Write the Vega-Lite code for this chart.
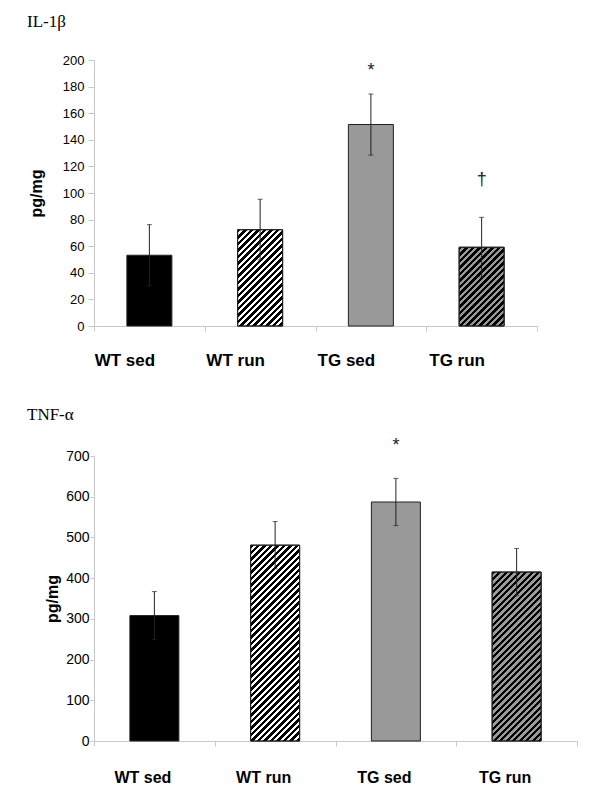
{
  "$schema": "https://vega.github.io/schema/vega-lite/v6.json",
  "background": "white",
  "padding": {"left": 27, "top": 13, "right": 5, "bottom": 5},
  "spacing": 37,
  "params": [
    {"name": "hatch", "value": [
      {"offset":0,"color":"#000"},
      {"offset":0.01316,"color":"#000"},{"offset":0.01316,"color":"transparent"},
      {"offset":0.02632,"color":"transparent"},{"offset":0.02632,"color":"#000"},
      {"offset":0.03947,"color":"#000"},{"offset":0.03947,"color":"transparent"},
      {"offset":0.05263,"color":"transparent"},{"offset":0.05263,"color":"#000"},
      {"offset":0.06579,"color":"#000"},{"offset":0.06579,"color":"transparent"},
      {"offset":0.07895,"color":"transparent"},{"offset":0.07895,"color":"#000"},
      {"offset":0.09211,"color":"#000"},{"offset":0.09211,"color":"transparent"},
      {"offset":0.10526,"color":"transparent"},{"offset":0.10526,"color":"#000"},
      {"offset":0.11842,"color":"#000"},{"offset":0.11842,"color":"transparent"},
      {"offset":0.13158,"color":"transparent"},{"offset":0.13158,"color":"#000"},
      {"offset":0.14474,"color":"#000"},{"offset":0.14474,"color":"transparent"},
      {"offset":0.15789,"color":"transparent"},{"offset":0.15789,"color":"#000"},
      {"offset":0.17105,"color":"#000"},{"offset":0.17105,"color":"transparent"},
      {"offset":0.18421,"color":"transparent"},{"offset":0.18421,"color":"#000"},
      {"offset":0.19737,"color":"#000"},{"offset":0.19737,"color":"transparent"},
      {"offset":0.21053,"color":"transparent"},{"offset":0.21053,"color":"#000"},
      {"offset":0.22368,"color":"#000"},{"offset":0.22368,"color":"transparent"},
      {"offset":0.23684,"color":"transparent"},{"offset":0.23684,"color":"#000"},
      {"offset":0.25,"color":"#000"},{"offset":0.25,"color":"transparent"},
      {"offset":0.26316,"color":"transparent"},{"offset":0.26316,"color":"#000"},
      {"offset":0.27632,"color":"#000"},{"offset":0.27632,"color":"transparent"},
      {"offset":0.28947,"color":"transparent"},{"offset":0.28947,"color":"#000"},
      {"offset":0.30263,"color":"#000"},{"offset":0.30263,"color":"transparent"},
      {"offset":0.31579,"color":"transparent"},{"offset":0.31579,"color":"#000"},
      {"offset":0.32895,"color":"#000"},{"offset":0.32895,"color":"transparent"},
      {"offset":0.34211,"color":"transparent"},{"offset":0.34211,"color":"#000"},
      {"offset":0.35526,"color":"#000"},{"offset":0.35526,"color":"transparent"},
      {"offset":0.36842,"color":"transparent"},{"offset":0.36842,"color":"#000"},
      {"offset":0.38158,"color":"#000"},{"offset":0.38158,"color":"transparent"},
      {"offset":0.39474,"color":"transparent"},{"offset":0.39474,"color":"#000"},
      {"offset":0.40789,"color":"#000"},{"offset":0.40789,"color":"transparent"},
      {"offset":0.42105,"color":"transparent"},{"offset":0.42105,"color":"#000"},
      {"offset":0.43421,"color":"#000"},{"offset":0.43421,"color":"transparent"},
      {"offset":0.44737,"color":"transparent"},{"offset":0.44737,"color":"#000"},
      {"offset":0.46053,"color":"#000"},{"offset":0.46053,"color":"transparent"},
      {"offset":0.47368,"color":"transparent"},{"offset":0.47368,"color":"#000"},
      {"offset":0.48684,"color":"#000"},{"offset":0.48684,"color":"transparent"},
      {"offset":0.5,"color":"transparent"},{"offset":0.5,"color":"#000"},
      {"offset":0.51316,"color":"#000"},{"offset":0.51316,"color":"transparent"},
      {"offset":0.52632,"color":"transparent"},{"offset":0.52632,"color":"#000"},
      {"offset":0.53947,"color":"#000"},{"offset":0.53947,"color":"transparent"},
      {"offset":0.55263,"color":"transparent"},{"offset":0.55263,"color":"#000"},
      {"offset":0.56579,"color":"#000"},{"offset":0.56579,"color":"transparent"},
      {"offset":0.57895,"color":"transparent"},{"offset":0.57895,"color":"#000"},
      {"offset":0.59211,"color":"#000"},{"offset":0.59211,"color":"transparent"},
      {"offset":0.60526,"color":"transparent"},{"offset":0.60526,"color":"#000"},
      {"offset":0.61842,"color":"#000"},{"offset":0.61842,"color":"transparent"},
      {"offset":0.63158,"color":"transparent"},{"offset":0.63158,"color":"#000"},
      {"offset":0.64474,"color":"#000"},{"offset":0.64474,"color":"transparent"},
      {"offset":0.65789,"color":"transparent"},{"offset":0.65789,"color":"#000"},
      {"offset":0.67105,"color":"#000"},{"offset":0.67105,"color":"transparent"},
      {"offset":0.68421,"color":"transparent"},{"offset":0.68421,"color":"#000"},
      {"offset":0.69737,"color":"#000"},{"offset":0.69737,"color":"transparent"},
      {"offset":0.71053,"color":"transparent"},{"offset":0.71053,"color":"#000"},
      {"offset":0.72368,"color":"#000"},{"offset":0.72368,"color":"transparent"},
      {"offset":0.73684,"color":"transparent"},{"offset":0.73684,"color":"#000"},
      {"offset":0.75,"color":"#000"},{"offset":0.75,"color":"transparent"},
      {"offset":0.76316,"color":"transparent"},{"offset":0.76316,"color":"#000"},
      {"offset":0.77632,"color":"#000"},{"offset":0.77632,"color":"transparent"},
      {"offset":0.78947,"color":"transparent"},{"offset":0.78947,"color":"#000"},
      {"offset":0.80263,"color":"#000"},{"offset":0.80263,"color":"transparent"},
      {"offset":0.81579,"color":"transparent"},{"offset":0.81579,"color":"#000"},
      {"offset":0.82895,"color":"#000"},{"offset":0.82895,"color":"transparent"},
      {"offset":0.84211,"color":"transparent"},{"offset":0.84211,"color":"#000"},
      {"offset":0.85526,"color":"#000"},{"offset":0.85526,"color":"transparent"},
      {"offset":0.86842,"color":"transparent"},{"offset":0.86842,"color":"#000"},
      {"offset":0.88158,"color":"#000"},{"offset":0.88158,"color":"transparent"},
      {"offset":0.89474,"color":"transparent"},{"offset":0.89474,"color":"#000"},
      {"offset":0.90789,"color":"#000"},{"offset":0.90789,"color":"transparent"},
      {"offset":0.92105,"color":"transparent"},{"offset":0.92105,"color":"#000"},
      {"offset":0.93421,"color":"#000"},{"offset":0.93421,"color":"transparent"},
      {"offset":0.94737,"color":"transparent"},{"offset":0.94737,"color":"#000"},
      {"offset":0.96053,"color":"#000"},{"offset":0.96053,"color":"transparent"},
      {"offset":0.97368,"color":"transparent"},{"offset":0.97368,"color":"#000"},
      {"offset":0.98684,"color":"#000"},{"offset":0.98684,"color":"transparent"},
      {"offset":1,"color":"transparent"}
    ]}
  ],
  "datasets": {
    "il1b": [
      {"group": "WT sed", "mean": 53.2, "lo": 30.2, "hi": 76.2},
      {"group": "WT run", "mean": 72.4, "lo": 49.6, "hi": 95.3},
      {"group": "TG sed", "mean": 151.5, "lo": 128.5, "hi": 174.4},
      {"group": "TG run", "mean": 59.2, "lo": 36.7, "hi": 81.7}
    ],
    "il1bSig": [
      {"group": "TG sed", "y": 192, "label": "*"},
      {"group": "TG run", "y": 110, "label": "†"}
    ],
    "tnfa": [
      {"group": "WT sed", "mean": 308, "lo": 249, "hi": 367},
      {"group": "WT run", "mean": 481, "lo": 423, "hi": 539},
      {"group": "TG sed", "mean": 587, "lo": 529, "hi": 645},
      {"group": "TG run", "mean": 415, "lo": 357, "hi": 473}
    ],
    "tnfaSig": [
      {"group": "TG sed", "y": 725, "label": "*"}
    ]
  },
  "config": {
    "view": {"stroke": null},
    "axis": {
      "grid": false,
      "domainColor": "#c8c8c8",
      "tickColor": "#c8c8c8",
      "labelFont": "Liberation Sans",
      "titleFont": "Liberation Sans",
      "labelColor": "#000",
      "titleColor": "#000",
      "labelOverlap": false,
      "labelFlush": false
    },
    "axisY": {"labelOverlap": false},
    "axisQuantitative": {"labelOverlap": false},
    "title": {
      "font": "Liberation Serif",
      "fontSize": 17,
      "fontWeight": "normal",
      "anchor": "start",
      "color": "#000",
      "frame": "group"
    }
  },
  "vconcat": [
    {
      "width": 443,
      "height": 266,
      "title": {"text": "IL-1β", "dx": -67, "offset": 23},
      "data": {"name": "il1b"},
      "encoding": {
        "x": {
          "field": "group", "type": "nominal",
          "sort": ["WT sed", "WT run", "TG sed", "TG run"],
          "scale": {"paddingInner": 0, "paddingOuter": 0},
          "axis": {
            "title": null, "labelAngle": 0, "labelFontSize": 17, "labelFontWeight": "bold",
            "labelOffset": -25, "tickBand": "extent", "tickSize": 5, "labelPadding": 21
          }
        },
        "y": {
          "field": "mean", "type": "quantitative", "title": "pg/mg",
          "scale": {"domain": [0, 200], "nice": false},
          "axis": {
            "values": [0, 20, 40, 60, 80, 100, 120, 140, 160, 180, 200],
            "labelOverlap": false,
            "titleFontSize": 16, "titleFontWeight": "bold", "labelFontSize": 13,
            "tickSize": 6, "labelPadding": 4, "titlePadding": 18
          }
        }
      },
      "layer": [
        {
          "mark": {"type": "bar", "width": 45, "stroke": "#222", "strokeWidth": 1},
          "encoding": {
            "fill": {
              "field": "group", "type": "nominal", "legend": null,
              "scale": {"domain": ["WT sed", "WT run", "TG sed", "TG run"], "range": ["#000000", "#ffffff", "#999999", "#999999"]}
            }
          }
        },
        {
          "transform": [{"filter": "datum.group === 'WT run'"}],
          "mark": {"type": "bar", "width": 45, "stroke": "#222", "strokeWidth": 1,
            "fill": {"expr": "{gradient: 'linear', x1: 0, y1: 0, x2: 0.9837, y2: 2.105, stops: hatch}"}}
        },
        {
          "transform": [{"filter": "datum.group === 'TG run'"}],
          "mark": {"type": "bar", "width": 45, "stroke": "#222", "strokeWidth": 1,
            "fill": {"expr": "{gradient: 'linear', x1: 0, y1: 0, x2: 1.3523, y2: 2.365, stops: hatch}"}}
        },
        {
          "mark": {"type": "rule", "color": "#222", "strokeWidth": 1},
          "encoding": {
            "y": {"field": "lo", "type": "quantitative", "title": "pg/mg",
              "axis": {"values": [0, 20, 40, 60, 80, 100, 120, 140, 160, 180, 200], "labelOverlap": false, "titleFontSize": 16, "titleFontWeight": "bold", "labelFontSize": 13, "tickSize": 6, "labelPadding": 4, "titlePadding": 18}},
            "y2": {"field": "hi"}
          }
        },
        {
          "mark": {"type": "tick", "color": "#222", "size": 5, "thickness": 1, "orient": "horizontal"},
          "encoding": {"y": {"field": "hi", "type": "quantitative", "title": "pg/mg",
            "axis": {"values": [0, 20, 40, 60, 80, 100, 120, 140, 160, 180, 200], "labelOverlap": false, "titleFontSize": 16, "titleFontWeight": "bold", "labelFontSize": 13, "tickSize": 6, "labelPadding": 4, "titlePadding": 18}}}
        },
        {
          "mark": {"type": "tick", "color": "#222", "size": 5, "thickness": 1, "orient": "horizontal"},
          "encoding": {"y": {"field": "lo", "type": "quantitative", "title": "pg/mg",
            "axis": {"values": [0, 20, 40, 60, 80, 100, 120, 140, 160, 180, 200], "labelOverlap": false, "titleFontSize": 16, "titleFontWeight": "bold", "labelFontSize": 13, "tickSize": 6, "labelPadding": 4, "titlePadding": 18}}}
        },
        {
          "data": {"name": "il1bSig"},
          "mark": {"type": "text", "font": "Liberation Sans", "fontSize": 18, "color": "#222", "baseline": "middle"},
          "encoding": {
            "y": {"field": "y", "type": "quantitative", "title": "pg/mg",
              "axis": {"values": [0, 20, 40, 60, 80, 100, 120, 140, 160, 180, 200], "labelOverlap": false, "titleFontSize": 16, "titleFontWeight": "bold", "labelFontSize": 13, "tickSize": 6, "labelPadding": 4, "titlePadding": 18}},
            "text": {"field": "label"}
          }
        }
      ]
    },
    {
      "width": 483,
      "height": 285,
      "title": {"text": "TNF-α", "dx": -67, "offset": 13},
      "data": {"name": "tnfa"},
      "encoding": {
        "x": {
          "field": "group", "type": "nominal",
          "sort": ["WT sed", "WT run", "TG sed", "TG run"],
          "scale": {"paddingInner": 0, "paddingOuter": 0},
          "axis": {
            "title": null, "labelAngle": 0, "labelFontSize": 16, "labelFontWeight": "bold",
            "labelOffset": -12, "tickBand": "extent", "tickSize": 5, "labelPadding": 23
          }
        },
        "y": {
          "field": "mean", "type": "quantitative", "title": "pg/mg",
          "scale": {"domain": [0, 700], "nice": false},
          "axis": {
            "values": [0, 100, 200, 300, 400, 500, 600, 700],
            "labelOverlap": false,
            "titleFontSize": 16, "titleFontWeight": "bold", "labelFontSize": 14,
            "tickSize": 4, "labelPadding": 1, "titlePadding": 5
          }
        }
      },
      "layer": [
        {
          "mark": {"type": "bar", "width": 49, "stroke": "#222", "strokeWidth": 1},
          "encoding": {
            "fill": {
              "field": "group", "type": "nominal", "legend": null,
              "scale": {"domain": ["WT sed", "WT run", "TG sed", "TG run"], "range": ["#000000", "#ffffff", "#999999", "#999999"]}
            }
          }
        },
        {
          "transform": [{"filter": "datum.group === 'WT run'"}],
          "mark": {"type": "bar", "width": 49, "stroke": "#222", "strokeWidth": 1,
            "fill": {"expr": "{gradient: 'linear', x1: 0, y1: 0, x2: 0.2971, y2: 1.1871, stops: hatch}"}}
        },
        {
          "transform": [{"filter": "datum.group === 'TG run'"}],
          "mark": {"type": "bar", "width": 49, "stroke": "#222", "strokeWidth": 1,
            "fill": {"expr": "{gradient: 'linear', x1: 0, y1: 0, x2: 0.3913, y2: 1.3489, stops: hatch}"}}
        },
        {
          "mark": {"type": "rule", "color": "#222", "strokeWidth": 1},
          "encoding": {
            "y": {"field": "lo", "type": "quantitative", "title": "pg/mg",
              "axis": {"values": [0, 100, 200, 300, 400, 500, 600, 700], "labelOverlap": false, "titleFontSize": 16, "titleFontWeight": "bold", "labelFontSize": 14, "tickSize": 4, "labelPadding": 1, "titlePadding": 5}},
            "y2": {"field": "hi"}
          }
        },
        {
          "mark": {"type": "tick", "color": "#222", "size": 5, "thickness": 1, "orient": "horizontal"},
          "encoding": {"y": {"field": "hi", "type": "quantitative", "title": "pg/mg",
            "axis": {"values": [0, 100, 200, 300, 400, 500, 600, 700], "labelOverlap": false, "titleFontSize": 16, "titleFontWeight": "bold", "labelFontSize": 14, "tickSize": 4, "labelPadding": 1, "titlePadding": 5}}}
        },
        {
          "mark": {"type": "tick", "color": "#222", "size": 5, "thickness": 1, "orient": "horizontal"},
          "encoding": {"y": {"field": "lo", "type": "quantitative", "title": "pg/mg",
            "axis": {"values": [0, 100, 200, 300, 400, 500, 600, 700], "labelOverlap": false, "titleFontSize": 16, "titleFontWeight": "bold", "labelFontSize": 14, "tickSize": 4, "labelPadding": 1, "titlePadding": 5}}}
        },
        {
          "data": {"name": "tnfaSig"},
          "mark": {"type": "text", "font": "Liberation Sans", "fontSize": 18, "color": "#222", "baseline": "middle"},
          "encoding": {
            "y": {"field": "y", "type": "quantitative", "title": "pg/mg",
              "axis": {"values": [0, 100, 200, 300, 400, 500, 600, 700], "labelOverlap": false, "titleFontSize": 16, "titleFontWeight": "bold", "labelFontSize": 14, "tickSize": 4, "labelPadding": 1, "titlePadding": 5}},
            "text": {"field": "label"}
          }
        }
      ]
    }
  ]
}
